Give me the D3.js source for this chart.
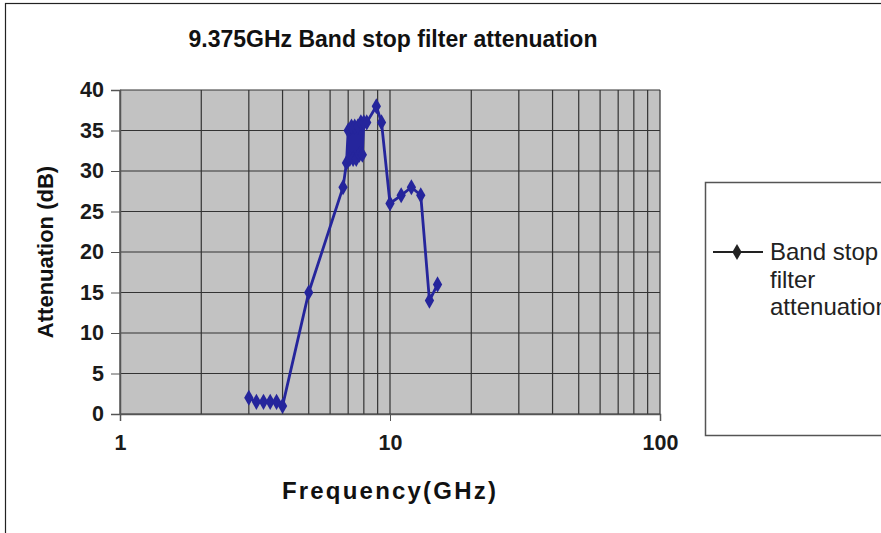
<!DOCTYPE html>
<html>
<head>
<meta charset="utf-8">
<script src="https://cdn.jsdelivr.net/npm/d3@7"></script>
<style>
  body { margin: 0; background: #fff; }
  svg { font-family: "Liberation Sans", Arial, sans-serif; }
</style>
</head>
<body>
<div id="chart"></div>
<script>
// values
var freqs = [3, 3.2, 3.4, 3.6, 3.8, 4, 5, 6.7, 6.9, 7.0, 7.1, 7.2, 7.3, 7.4, 7.5, 7.6, 7.7, 7.8, 7.9, 8.0, 8.2, 8.9, 9.3, 10, 11, 12, 13, 14, 15];
var atten = [2, 1.5, 1.5, 1.5, 1.5, 1, 15, 28, 31, 35, 31.5, 35.5, 31.5, 35.5, 31.5, 35.5, 32, 36, 32, 36, 36, 38, 36, 26, 27, 28, 27, 14, 16];
var yTicks = [0, 5, 10, 15, 20, 25, 30, 35, 40];
var xTicks = [1, 10, 100];
var legendLines = ["Band stop", "filter", "attenuation"];

var svgWidth = 881;
var svgHeight = 533;
var margin = { top: 90, right: 221, bottom: 119, left: 120 };
var chart_width = svgWidth - margin.left - margin.right;
var chart_height = svgHeight - margin.top - margin.bottom;

var svg = d3.select("#chart")
    .append("svg")
    .attr("width", svgWidth)
    .attr("height", svgHeight);

// outer chart frame
svg.append("rect")
    .attr("x", 5.5).attr("y", 3.5)
    .attr("width", 900).attr("height", 600)
    .attr("fill", "none")
    .attr("stroke", "#222")
    .attr("stroke-width", 1.2);

var chartGroup = svg.append("g")
    .attr("transform", `translate(${margin.left}, ${margin.top})`);

var xScale = d3.scaleLog()
    .domain([1, 100])
    .range([0, chart_width]);

var yScale = d3.scaleLinear()
    .domain([0, 40])
    .range([chart_height, 0]);

// plot background
chartGroup.append("rect")
    .attr("width", chart_width)
    .attr("height", chart_height)
    .attr("fill", "#c2c2c2");

// vertical grid (every log tick)
var minor = xScale.ticks();
chartGroup.append("g")
    .selectAll("line")
    .data(minor)
    .enter()
    .append("line")
    .attr("x1", d => xScale(d))
    .attr("x2", d => xScale(d))
    .attr("y1", 0)
    .attr("y2", chart_height)
    .attr("stroke", "#333")
    .attr("stroke-width", 1.2);

// horizontal grid
chartGroup.append("g")
    .selectAll("line")
    .data(yTicks)
    .enter()
    .append("line")
    .attr("x1", 0)
    .attr("x2", chart_width)
    .attr("y1", d => yScale(d))
    .attr("y2", d => yScale(d))
    .attr("stroke", "#333")
    .attr("stroke-width", 1.2);

// axes
var leftAxis = d3.axisLeft(yScale).tickValues(yTicks).tickSize(9).tickPadding(7);
var bottomAxis = d3.axisBottom(xScale).tickValues(xTicks).tickFormat(d3.format("d")).tickSize(7).tickPadding(14);

var gy = chartGroup.append("g").call(leftAxis);
var gx = chartGroup.append("g")
    .attr("transform", `translate(0, ${chart_height})`)
    .call(bottomAxis);

[gx, gy].forEach(function(g) {
    g.selectAll("path").attr("stroke", "#555").attr("stroke-width", 1.5);
    g.selectAll("line").attr("stroke", "#555");
    g.selectAll("text")
        .attr("font-size", 21.5)
        .attr("font-weight", "bold")
        .attr("fill", "#1a1a1a")
        .style("font-family", "'Liberation Sans', Arial, sans-serif");
});

// data line
var points = freqs.map((f, i) => ({ f: f, a: atten[i] }));
var line = d3.line()
    .x(d => xScale(d.f))
    .y(d => yScale(d.a));

chartGroup.append("path")
    .datum(points)
    .attr("d", line)
    .attr("fill", "none")
    .attr("stroke", "#25259c")
    .attr("stroke-width", 2.8);

var diamond = d3.symbol().type(d3.symbolDiamond).size(75);
chartGroup.selectAll(".pt")
    .data(points)
    .enter()
    .append("path")
    .attr("class", "pt")
    .attr("d", diamond)
    .attr("transform", d => `translate(${xScale(d.f)}, ${yScale(d.a)})`)
    .attr("fill", "#25259c");

// title
svg.append("text")
    .attr("x", 393)
    .attr("y", 47)
    .attr("text-anchor", "middle")
    .attr("font-size", 23)
    .attr("font-weight", "bold")
    .attr("fill", "#111")
    .text("9.375GHz Band stop filter attenuation");

// axis labels
svg.append("text")
    .attr("x", 390)
    .attr("y", 499)
    .attr("text-anchor", "middle")
    .attr("font-size", 24)
    .attr("font-weight", "bold")
    .attr("letter-spacing", 2.2)
    .attr("fill", "#111")
    .text("Frequency(GHz)");

svg.append("text")
    .attr("transform", `translate(53, ${margin.top + chart_height / 2}) rotate(-90)`)
    .attr("text-anchor", "middle")
    .attr("font-size", 22)
    .attr("font-weight", "bold")
    .attr("fill", "#111")
    .text("Attenuation (dB)");

// legend
var legend = svg.append("g").attr("transform", "translate(705, 182)");
legend.append("rect")
    .attr("x", 0.5).attr("y", 0.5)
    .attr("width", 300).attr("height", 253)
    .attr("fill", "#fff")
    .attr("stroke", "#555")
    .attr("stroke-width", 1.5);
legend.append("line")
    .attr("x1", 8).attr("x2", 58)
    .attr("y1", 70).attr("y2", 70)
    .attr("stroke", "#222")
    .attr("stroke-width", 2);
legend.append("path")
    .attr("d", diamond)
    .attr("transform", "translate(32, 70)")
    .attr("fill", "#222");
legend.selectAll(".lt")
    .data(legendLines)
    .enter()
    .append("text")
    .attr("class", "lt")
    .attr("x", 65)
    .attr("y", (d, i) => 78 + i * 27.5)
    .attr("font-size", 24)
    .attr("fill", "#222")
    .text(d => d);
</script>
</body>
</html>
